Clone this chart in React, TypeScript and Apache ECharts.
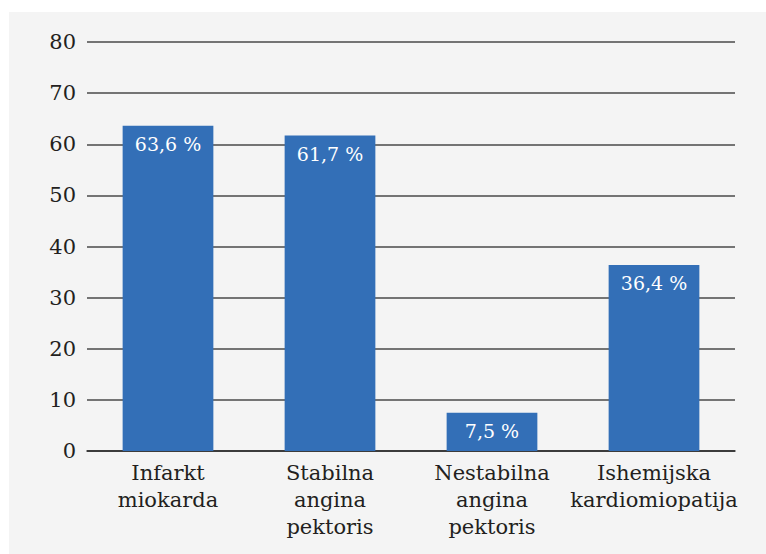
import React, { useEffect, useRef } from "react";
import * as echarts from "echarts";

const categories = ["Infarkt\nmiokarda", "Stabilna\nangina\npektoris", "Nestabilna\nangina\npektoris", "Ishemijska\nkardiomiopatija"];
const values = [63.6, 61.7, 7.5, 36.4];
const yTicks = { min: 0, max: 80, interval: 10 };

const FONT = "DejaVu Serif";

export default function App() {
  const ref = useRef<HTMLDivElement>(null);
  useEffect(() => {
    const chart = echarts.init(ref.current!, null, { renderer: "svg" });
    chart.setOption({
      animation: false,
      backgroundColor: "transparent",
      textStyle: { fontFamily: FONT },
      grid: { left: 78, right: 31, top: 30, bottom: 103, containLabel: false },
      xAxis: {
        type: "category",
        data: categories,
        axisLine: { show: true, lineStyle: { color: "#2a2a2a", width: 1.5 } },
        axisTick: { show: false },
        axisLabel: { interval: 0, color: "#231f20", fontFamily: FONT, fontSize: 21, lineHeight: 27, margin: 8 },
      },
      yAxis: {
        type: "value",
        min: yTicks.min,
        max: yTicks.max,
        interval: yTicks.interval,
        axisLine: { show: false },
        axisTick: { show: false },
        axisLabel: { color: "#231f20", fontFamily: FONT, fontSize: 21, margin: 11 },
        splitLine: { lineStyle: { color: "#4a4a4a", width: 1.5 } },
      },
      series: [
        {
          type: "bar",
          data: values,
          barWidth: "56%",
          itemStyle: { color: "#336fb7" },
          label: {
            show: true,
            position: "insideTop",
            distance: 9,
            color: "#fff",
            fontFamily: FONT,
            fontSize: 19,
            formatter: (p: any) => String(p.value).replace(".", ",") + " %",
          },
        },
      ],
    });
    return () => chart.dispose();
  }, []);
  return (
    <div style={{ position: "absolute", left: 9, top: 12, right: 0, bottom: 0, background: "#f4f4f4" }}>
      <div ref={ref} style={{ width: 757, height: 542 }} />
    </div>
  );
}
